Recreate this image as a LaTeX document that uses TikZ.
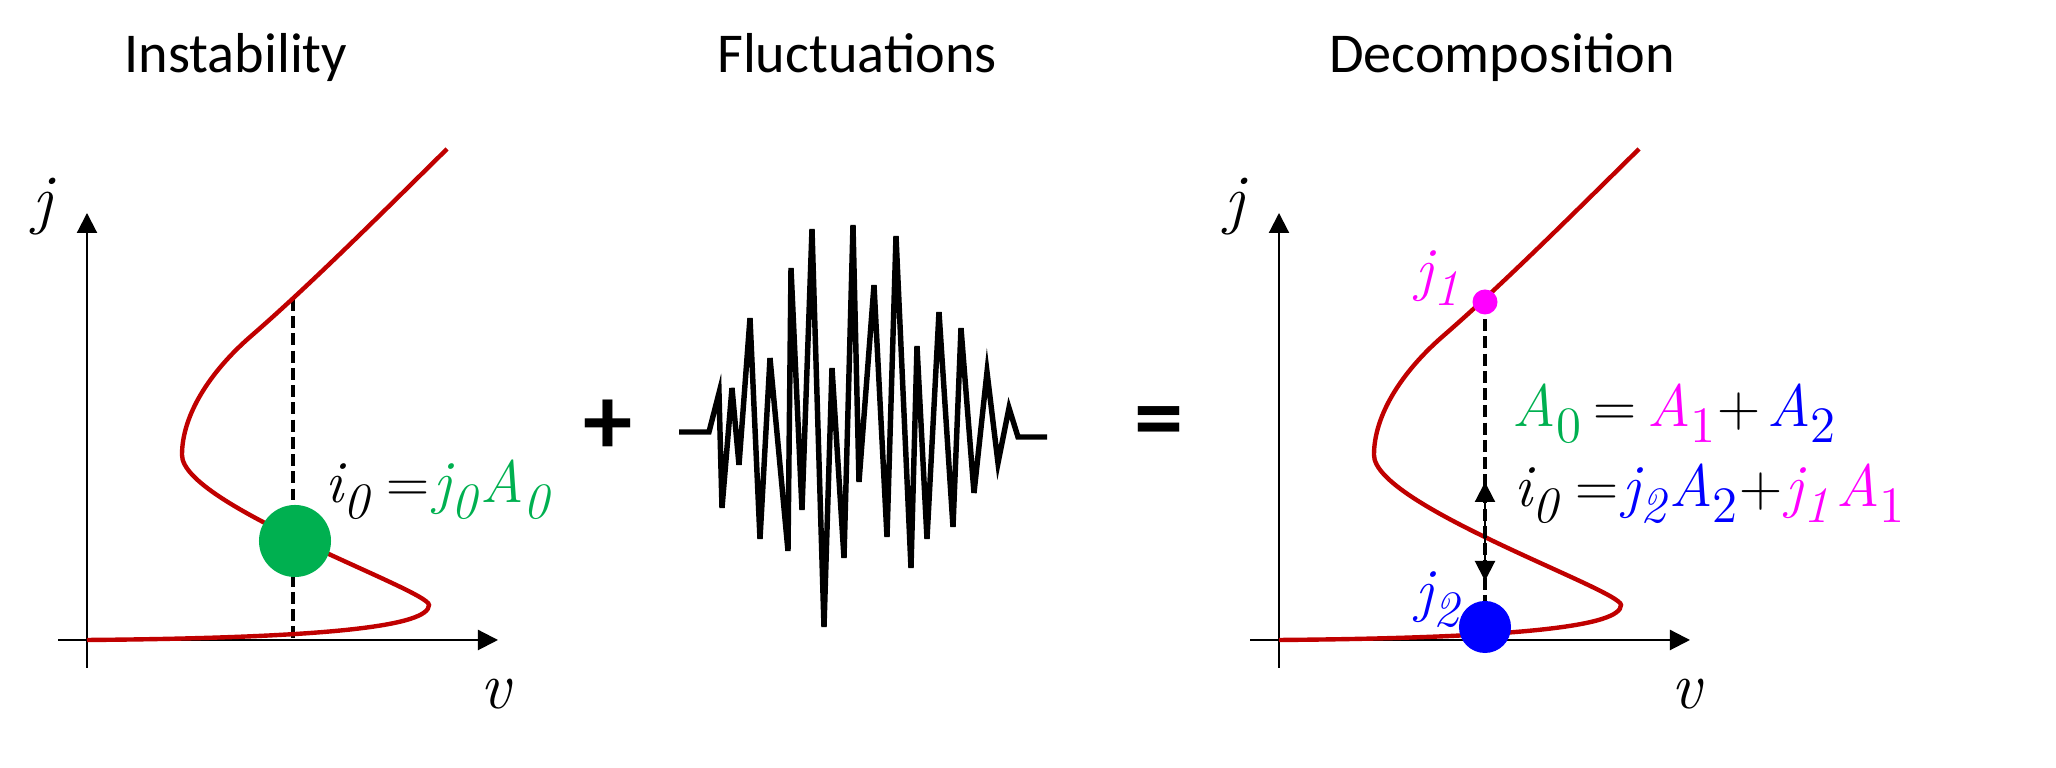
\documentclass[tikz,border=0pt]{standalone}
\usepackage{fontspec}
\newfontfamily\titlefont{Carlito}
\usetikzlibrary{arrows.meta}
\definecolor{curvered}{RGB}{192,0,0}
\definecolor{dgreen}{RGB}{0,176,80}
\definecolor{mag}{RGB}{255,0,255}
\definecolor{blu}{RGB}{0,0,255}
\newcommand{\sbi}[1]{\raisebox{-4.3pt}{\fontsize{14.5}{16}\selectfont\itshape #1}}
\newcommand{\sbu}[1]{\raisebox{-4.3pt}{\fontsize{14.5}{16}\selectfont\upshape #1}}
\begin{document}
\begin{tikzpicture}[x=0.01cm,y=-0.01cm,
  title/.style={font=\titlefont\fontsize{16}{19}\selectfont, inner sep=0, anchor=base},
  opsign/.style={font=\titlefont\bfseries\fontsize{28}{30}\selectfont, inner sep=0},
  mathlbl/.style={font=\rmfamily\fontsize{17}{21}\selectfont\addfontfeatures{FakeBold=0.6}, inner sep=0, anchor=base west},
  axlbl/.style={font=\rmfamily\fontsize{19}{21}\selectfont\addfontfeatures{FakeBold=0.6}\itshape, inner sep=0},
  axisline/.style={line width=0.6pt, -{Triangle[width=0.2cm,length=0.2cm]}},
  scurve/.style={curvered, line width=1.25pt},
  guide/.style={dash pattern=on 3.4pt off 1.5pt, line width=1pt},
  dot/.style={circle, inner sep=0, draw=none},
  dbl/.style={line width=0.6pt, {Triangle[width=0.2cm,length=0.2cm]}-{Triangle[width=0.2cm,length=0.2cm]}},
  ]
\useasboundingbox (0,0) rectangle (2056,768);

% titles
\node[title] (t1) at (236,73) {Instability};
\node[title] (t2) at (857,73) {Fluctuations};
\node[title] (t3) at (1502,73) {Decomposition};

% ---------- left plot ----------
\coordinate (yb1) at (87,668);
\coordinate (yt1) at (87,213);
\coordinate (xl1) at (58,640);
\coordinate (xr1) at (498,640);
\draw[axisline] (yb1) -- (yt1);
\draw[axisline] (xl1) -- (xr1);
\node[axlbl] (jax1) at (43,207) {j};
\node[axlbl] (vax1) at (496,694) {v};
\coordinate (dt1) at (293,299);
\coordinate (db1) at (293,640);
\draw[guide] (dt1) -- (db1);
\draw[scurve] (87,640) .. controls (330,638) and (429,626) .. (429,605)
  .. controls (429,590) and (182,505) .. (182,455)
  .. controls (182,415) and (210,372) .. (250,337)
  .. controls (310,285) and (380,215) .. (447,149);
\node[dot, fill=dgreen, minimum size=0.72cm] (g0) at (295,541) {};
\node[mathlbl] (lab0) at (325,503) {\itshape i\sbi{0}\hspace{5pt}\upshape=\hspace{1pt}\itshape\textcolor{dgreen}{j\sbi{0}\hspace{1pt}A\sbi{0}}};

% ---------- operators ----------
\node[opsign] (plus) at (608,427) {+};
\node[opsign] (eq) at (1159,429) {=};

% ---------- fluctuations ----------
\draw[line width=1.55pt, line join=miter]
  (679,432) -- (709,432) -- (719,393) -- (722,508) -- (732,388) -- (739,465)
  -- (750,318) -- (760,539) -- (770,358) -- (788,551) -- (791,268) -- (802,510)
  -- (812,229) -- (824,627) -- (832,368) -- (844,558) -- (853,225) -- (859,482)
  -- (874,285) -- (887,537) -- (896,236) -- (911,568) -- (917,346) -- (927,539)
  -- (939,312) -- (953,527) -- (961,328) -- (974,493) -- (987,372) -- (998,463)
  -- (1009,408) -- (1018,437) -- (1047,437);

% ---------- right plot ----------
\coordinate (yb2) at (1279,668);
\coordinate (yt2) at (1279,213);
\coordinate (xl2) at (1250,640);
\coordinate (xr2) at (1690,640);
\draw[axisline] (yb2) -- (yt2);
\draw[axisline] (xl2) -- (xr2);
\node[axlbl] (jax2) at (1235,207) {j};
\node[axlbl] (vax2) at (1687,694) {v};
\begin{scope}[shift={(1192,0)}]
\draw[scurve] (87,640) .. controls (330,638) and (429,626) .. (429,605)
  .. controls (429,590) and (182,505) .. (182,455)
  .. controls (182,415) and (210,372) .. (250,337)
  .. controls (310,285) and (380,215) .. (447,149);
\end{scope}
\node[dot, minimum size=0.25cm] (j1d) at (1485,302) {};
\node[dot, minimum size=0.52cm] (j2d) at (1485,627) {};
\draw[guide] (j1d.center) -- (j2d.center);
\coordinate (at) at (1485,482);
\coordinate (ab) at (1485,581);
\draw[dbl] (at) -- (ab);
\node[dot, fill=mag, minimum size=0.25cm] at (j1d) {};
\node[dot, fill=blu, minimum size=0.52cm] at (j2d) {};
\node[mathlbl, anchor=base east, mag] (j1l) at (1460,290) {\itshape j\sbi{1}};
\node[mathlbl, anchor=base east, blu] (j2l) at (1460,611) {\itshape j\sbi{2}};
\node[mathlbl] (lab1) at (1512,427) {\itshape\textcolor{dgreen}{A\sbu{0}}\hspace{3.5pt}\upshape=\hspace{3pt}\itshape\textcolor{mag}{A\sbu{1}}\hspace{0.5pt}\upshape+\hspace{2pt}\itshape\textcolor{blu}{A\sbu{2}}};
\node[mathlbl] (lab2) at (1514,507) {\itshape i\sbi{0}\hspace{5pt}\upshape=\hspace{1pt}\itshape\textcolor{blu}{j\sbi{2}\hspace{1pt}A\sbu{2}}\hspace{0.5pt}\upshape+\hspace{1pt}\itshape\textcolor{mag}{j\sbi{1}\hspace{2pt}A\sbu{1}}};
\end{tikzpicture}
\end{document}
